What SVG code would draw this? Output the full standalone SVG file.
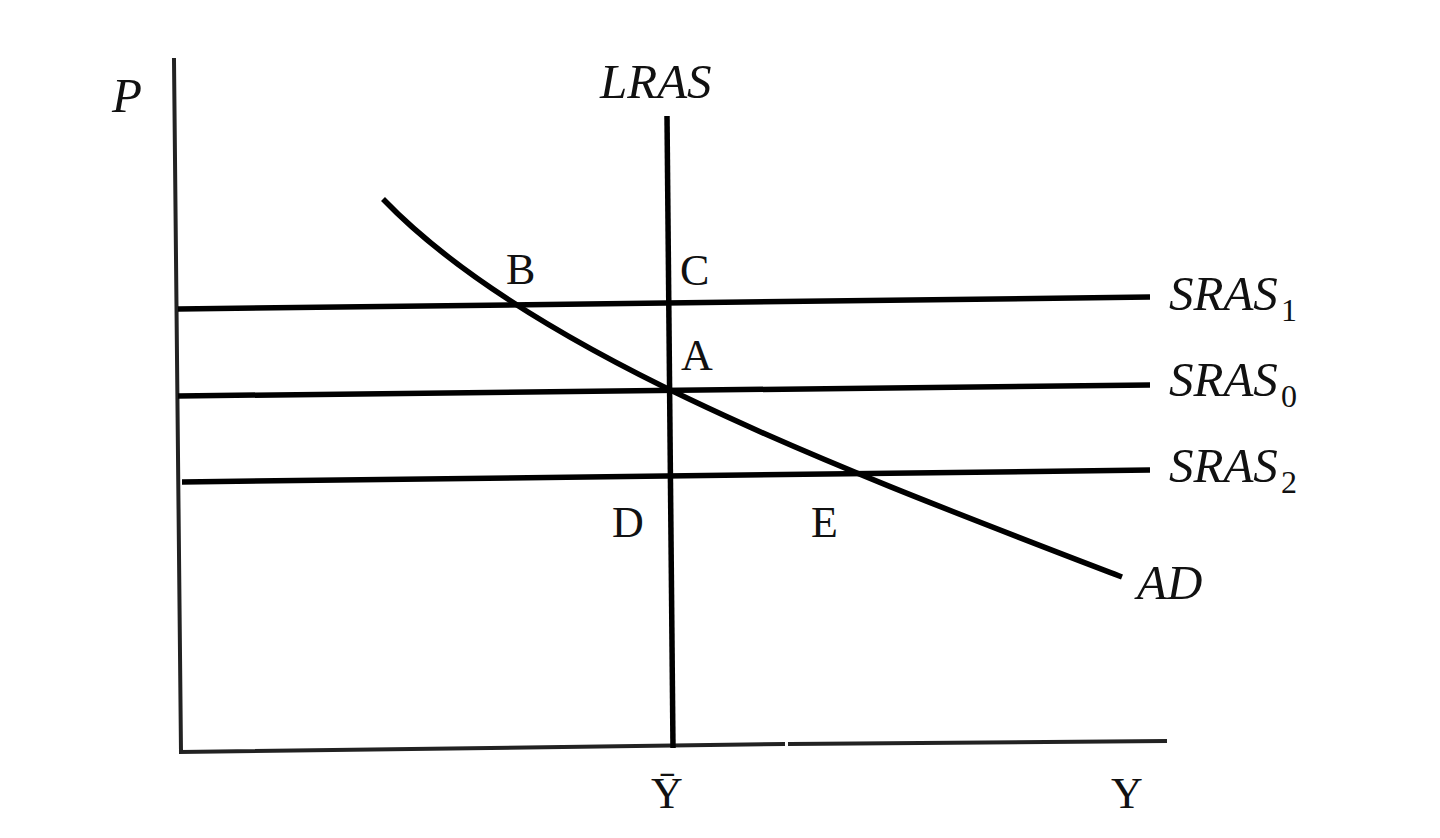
<svg xmlns="http://www.w3.org/2000/svg" width="1440" height="838" viewBox="0 0 1440 838">
<style>
.ax{stroke:#222;stroke-width:4;fill:none;stroke-linecap:square}
.ln{stroke:#000;stroke-width:5.5;fill:none}
.it{font-family:"Liberation Serif",serif;font-style:italic;font-size:49px;fill:#111}
.up{font-family:"Liberation Serif",serif;font-size:44px;fill:#111}
.sub{font-size:32px;font-style:normal}
</style>
<rect width="1440" height="838" fill="#fff"/>
<g id="axes">
<path class="ax" d="M174 60 L181 752 L783 744"/>
<path class="ax" d="M790 744 L1165 741"/>
</g>
<g id="curves">
<path id="lras" class="ln" d="M667 116 L673 748"/>
<path id="sras1" class="ln" d="M178 309 L1150 297"/>
<path id="sras0" class="ln" d="M178 396 L1150 385"/>
<path id="sras2" class="ln" d="M182 482 L1150 470"/>
<path id="ad" class="ln" d="M383 199 C530 352 830 465 1122 577"/>
</g>
<g id="labels">
<text class="it" x="112" y="112">P</text>
<text class="it" x="600" y="98">LRAS</text>
<text class="it" x="1169" y="310">SRAS<tspan class="sub" dx="3" dy="11">1</tspan></text>
<text class="it" x="1169" y="396">SRAS<tspan class="sub" dx="3" dy="11">0</tspan></text>
<text class="it" x="1169" y="482">SRAS<tspan class="sub" dx="3" dy="11">2</tspan></text>
<text class="it" x="1137" y="599">AD</text>
<text class="up" x="506" y="284">B</text>
<text class="up" x="680" y="285">C</text>
<text class="up" x="681" y="370">A</text>
<text class="up" x="612" y="537">D</text>
<text class="up" x="811" y="537">E</text>
<text class="up" x="667" y="808" text-anchor="middle">Ȳ</text>
<text class="up" x="1127" y="808" text-anchor="middle">Y</text>
</g>
</svg>
